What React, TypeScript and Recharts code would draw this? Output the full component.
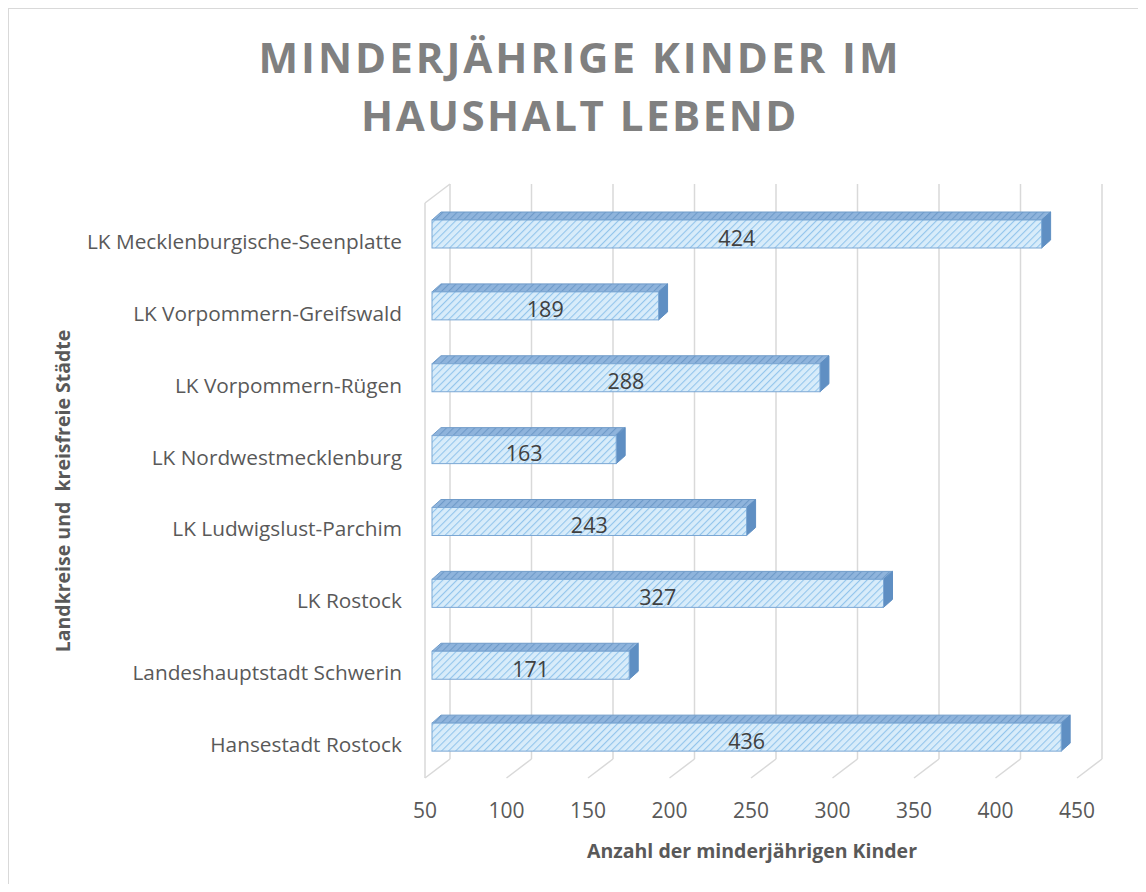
import { Bar, BarChart, CartesianGrid, XAxis, YAxis } from 'recharts';

const kreise = [
  'LK Mecklenburgische-Seenplatte',
  'LK Vorpommern-Greifswald',
  'LK Vorpommern-Rügen',
  'LK Nordwestmecklenburg',
  'LK Ludwigslust-Parchim',
  'LK Rostock',
  'Landeshauptstadt Schwerin',
  'Hansestadt Rostock',
];
const kinder = [424, 189, 288, 163, 243, 327, 171, 436];
const xTicks = [50, 100, 150, 200, 250, 300, 350, 400, 450];

const dados = kreise.map((kreis, i) => ({ kreis, kinder: kinder[i] }));

const FONT = '"Open Sans", sans-serif';
const GRID = '#d9d9d9';
// depth of the 3d box relative to the bar plane
const BACK_DX = 18;
const BACK_DY = -14;
const FRONT_DX = -7;
const FRONT_DY = 5;
const BAR_DX = 9;
const BAR_DY = 8;

function GridLine(props: any) {
  const { x1, y1, y2, index } = props;
  const bx = x1 + BACK_DX;
  const fx = x1 + FRONT_DX;
  return (
    <g key={`g-${index}`}>
      <line x1={bx} y1={y1 + BACK_DY} x2={bx} y2={y2 + BACK_DY} stroke={GRID} strokeWidth={1.5} />
      <line x1={bx} y1={y2 + BACK_DY} x2={fx} y2={y2 + FRONT_DY} stroke={GRID} strokeWidth={1.5} />
      {index === 0 && (
        <>
          <line x1={fx} y1={y1 + FRONT_DY} x2={fx} y2={y2 + FRONT_DY} stroke={GRID} strokeWidth={1.5} />
          <line x1={fx} y1={y1 + FRONT_DY} x2={bx} y2={y1 + BACK_DY} stroke={GRID} strokeWidth={1.5} />
        </>
      )}
    </g>
  );
}

function Bar3D(props: any) {
  const { x, y, width, height, payload } = props;
  const top = `${x},${y} ${x + BAR_DX},${y - BAR_DY} ${x + width + BAR_DX},${y - BAR_DY} ${x + width},${y}`;
  const side = `${x + width},${y} ${x + width + BAR_DX},${y - BAR_DY} ${x + width + BAR_DX},${y + height - BAR_DY} ${x + width},${y + height}`;
  return (
    <g>
      <polygon points={top} fill="url(#hatchTop)" stroke="#6f9bc9" strokeWidth={1} />
      <polygon points={side} fill="#5f8fc3" stroke="#5f8fc3" strokeWidth={1} />
      <rect x={x} y={y} width={width} height={height} fill="url(#hatchFront)" stroke="#7ba7d4" strokeWidth={1} />
      <text
        x={x + width / 2}
        y={y + height / 2 + 3}
        textAnchor="middle"
        dominantBaseline="central"
        fill="#404040"
        fontSize={21.5}
        fontFamily={FONT}
      >
        {payload.kinder}
      </text>
    </g>
  );
}

function KreisTick(props: any) {
  const { x, y, payload } = props;
  return (
    <text x={x - 30} y={y + 7} textAnchor="end" dominantBaseline="central" fill="#595959" fontSize={20.8} fontFamily={FONT}>
      {payload.value}
    </text>
  );
}

function WertTick(props: any) {
  const { x, y, payload } = props;
  return (
    <text x={x + FRONT_DX} y={y + 37} textAnchor="middle" dominantBaseline="central" fill="#595959" fontSize={21} fontFamily={FONT}>
      {payload.value}
    </text>
  );
}

export default function App() {
  return (
    <div
      style={{
        position: 'relative',
        width: 1130,
        height: 876,
        boxSizing: 'border-box',
        borderTop: '1px solid #d9d9d9',
        borderLeft: '1px solid #d9d9d9',
        background: '#fff',
        fontFamily: FONT,
      }}
    >
      <svg width={0} height={0} style={{ position: 'absolute' }}>
        <defs>
          <pattern id="hatchFront" width={5} height={5} patternUnits="userSpaceOnUse" patternTransform="rotate(45)">
            <rect width={5} height={5} fill="#d8ecfa" />
            <line x1={0} y1={0} x2={0} y2={5} stroke="#93c5ec" strokeWidth={2.2} />
          </pattern>
          <pattern id="hatchTop" width={5} height={5} patternUnits="userSpaceOnUse" patternTransform="rotate(45)">
            <rect width={5} height={5} fill="#8fb4dc" />
            <line x1={0} y1={0} x2={0} y2={5} stroke="#6f9bc9" strokeWidth={2.2} />
          </pattern>
        </defs>
      </svg>

      <div
        style={{
          position: 'absolute',
          left: 0,
          width: 1142,
          top: 27,
          textAlign: 'center',
          color: '#808080',
          fontWeight: 700,
          fontSize: 42,
          lineHeight: '42px',
          letterSpacing: 3,
          whiteSpace: 'nowrap',
        }}
      >
        MINDERJÄHRIGE KINDER IM
      </div>
      <div
        style={{
          position: 'absolute',
          left: 0,
          width: 1142,
          top: 85,
          textAlign: 'center',
          color: '#808080',
          fontWeight: 700,
          fontSize: 42,
          lineHeight: '42px',
          letterSpacing: 2.5,
          whiteSpace: 'nowrap',
        }}
      >
        HAUSHALT LEBEND
      </div>

      <div style={{ position: 'absolute', left: 0, top: 0 }}>
        <BarChart
          width={1129}
          height={875}
          layout="vertical"
          data={dados}
          margin={{ top: 189, right: 54, left: 0, bottom: 51 }}
          barSize={28}
        >
          <CartesianGrid horizontal={false} vertical={(p: any) => <GridLine {...p} />} />
          <XAxis
            type="number"
            domain={[50, 450]}
            ticks={xTicks}
            height={60}
            axisLine={false}
            tickLine={false}
            tickSize={0}
            tickMargin={0}
            tick={<WertTick />}
          />
          <YAxis
            type="category"
            dataKey="kreis"
            width={423}
            axisLine={false}
            tickLine={false}
            tickSize={0}
            tickMargin={0}
            tick={<KreisTick />}
            interval={0}
          />
          <Bar dataKey="kinder" shape={<Bar3D />} isAnimationActive={false} />
        </BarChart>
      </div>

      <div
        style={{
          position: 'absolute',
          left: 53,
          top: 482,
          transform: 'translate(-50%, -50%) rotate(-90deg)',
          whiteSpace: 'nowrap',
          color: '#595959',
          fontWeight: 700,
          fontSize: 19.5,
        }}
      >
        Landkreise und&nbsp; kreisfreie Städte
      </div>
      <div
        style={{
          position: 'absolute',
          left: 743,
          top: 841,
          transform: 'translate(-50%, -50%)',
          whiteSpace: 'nowrap',
          color: '#595959',
          fontWeight: 700,
          fontSize: 19.5,
        }}
      >
        Anzahl der minderjährigen Kinder
      </div>
    </div>
  );
}
